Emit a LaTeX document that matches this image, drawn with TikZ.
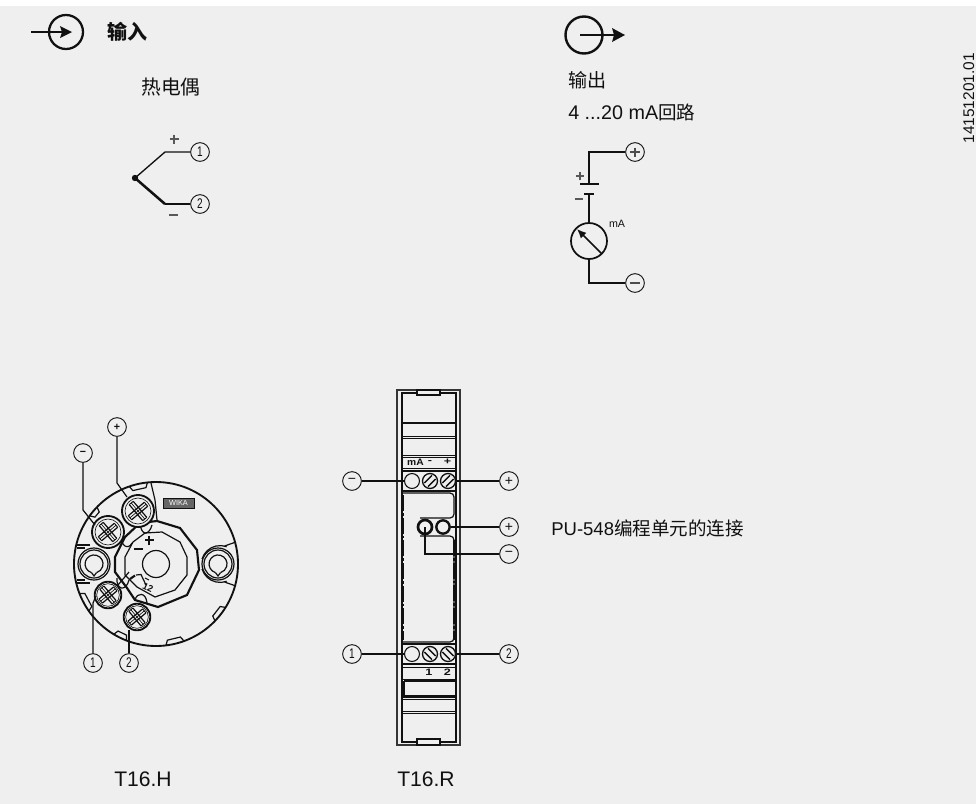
\documentclass[tikz,border=0pt]{standalone}
\usepackage{fontspec}
\usepackage{graphicx}
\setmainfont{Liberation Sans}
\newfontfamily\cjk{Noto Sans CJK SC}
\usetikzlibrary{arrows.meta,calc}
\definecolor{bgc}{HTML}{EFEFEF}
\definecolor{ink}{HTML}{111111}
\newcommand{\fsz}[1]{\fontsize{#1pt}{#1pt}\selectfont}
\tikzset{
 lab/.style={inner sep=0pt,text=ink,font=\fsz{13.9},anchor=base west},
 ln/.style={draw=ink,line width=0.9pt},
 thk/.style={draw=ink,line width=1.4pt},
 thn/.style={draw=ink,line width=0.5pt},
 term/.style={circle,draw=ink,line width=0.7pt,minimum size=14pt,inner sep=0pt,font=\fsz{10.5},text=ink},
 small/.style={inner sep=0pt,text=ink,font=\bfseries\fsz{7}},
}
\newcommand{\nar}[1]{\scalebox{0.72}[1]{#1}}
\newcommand{\wid}[1]{\scalebox{1.35}[1]{#1}}
% x y outer-radius ring-radius arm-length
\newcommand{\crosshead}[5]{%
 \draw[thk,fill=bgc] (#1,#2) circle (#3);
 \draw[thn] (#1,#2) circle (#4);
 \begin{scope}[shift={(#1,#2)},rotate=40]
  \draw[ink,line width=0.9pt] (-#5,-2.6) -- (#5,-2.6) (-#5,2.6) -- (#5,2.6) (-2.6,-#5) -- (-2.6,#5) (2.6,-#5) -- (2.6,#5);
  \draw[ink,line width=0.7pt] (-#5,-2.6) -- (-#5,2.6) (#5,-2.6) -- (#5,2.6) (-2.6,-#5) -- (2.6,-#5) (-2.6,#5) -- (2.6,#5);
  \draw[ink,line width=0.5pt] (-#5,0) -- (#5,0) (0,-#5) -- (0,#5);
 \end{scope}}
% x y sign: slotted terminal screw
\newcommand{\slotted}[3]{%
 \begin{scope}[shift={(#1,#2)},yscale=#3]
 \draw[ln,line width=1pt,fill=bgc] (0,0) circle (7.5);
 \draw[ink,line width=1pt] (-5.6,2) -- (2,-5.6) (-2,5.6) -- (5.6,-2);
 \end{scope}}
\begin{document}
\begin{tikzpicture}[x=0.75pt,y=-0.75pt]
\useasboundingbox (0,0) rectangle (976,804);
\fill[white] (0,0) rectangle (976,804);
\fill[bgc] (0,6) rectangle (976,804);
% --- headers
\draw[ink,line width=1.7pt] (66,32) circle (17);
\coordinate (inA) at (31,32);
\coordinate (inB) at (62,32);
\draw[ink,line width=1.7pt] (inA) -- (inB);
\fill[ink] (60,26) -- (72,32) -- (60,38) -- (62,32) -- cycle;
\node[lab,font=\fsz{15}] (tin) at (107,39) {\cjk\bfseries 输入};
\node[lab,font=\fsz{14.8}] (ttc) at (141,94) {\cjk 热电偶};
\draw[ink,line width=1.8pt] (584,35) circle (18.5);
\draw[ink,line width=1.7pt] (580,35) -- (614,35);
\fill[ink] (612,28) -- (625,35) -- (612,42) -- (614,35) -- cycle;
\node[lab,font=\fsz{14.3}] (tout) at (568,87) {\cjk 输出};
\node[lab,font=\fsz{14.8}] (tloop) at (568,119) {4 ...20 mA{\fsz{13.9}\cjk 回路}};
% --- thermocouple
\node[term] (c1) at (200,152) {\nar{1}};
\node[term] (c2) at (200,204) {\nar{2}};
\coordinate (tc) at (135,178);
\fill[ink] (tc) circle (3.2);
\draw[ln,line width=1pt] (tc) -- (165,152) -- (c1);
\draw[ink,line width=1.9pt] (tc) -- (165,204);
\draw[ln,line width=1pt] (165,204) -- (c2);
\draw[ink!70,line width=1.7pt] (169.5,139) -- (178.5,139) (174,134.5) -- (174,143.5);
\draw[ink!70,line width=1.7pt] (169,215) -- (178,215);
% --- output circuit
\node[term] (op) at (635,152) {};
\node[term] (om) at (635,283) {};
\draw[ink!75,line width=1.5pt] (630,152) -- (640,152) (635,147.5) -- (635,156.5);
\draw[ink!75,line width=1.8pt] (630,283) -- (640,283);
\draw[ink,line width=1.2pt] (op) -- (589,152) -- (589,184);
\draw[ink,line width=1.4pt] (580,184) -- (599,184);
\draw[ink,line width=2pt] (584,194) -- (594,194);
\draw[ink,line width=1.2pt] (589,194) -- (589,223);
\node[circle,draw=ink,line width=1.3pt,minimum size=27pt,inner sep=0pt] (mtr) at (589,241) {};
\draw[ink,line width=1.2pt,-{Latex[length=7pt,width=6pt]}] (602,254) -- (577,229);
\draw[ink,line width=1.2pt] (mtr) -- (589,283) -- (om);
\node[inner sep=0pt,text=ink,font=\fsz{8}] (ma) at (617,224) {mA};
\draw[ink!70,line width=1.6pt] (576,176) -- (584,176) (580,172) -- (580,180);
\draw[ink!70,line width=1.6pt] (575,199) -- (583,199);
% --- T16.H
\draw[thk] (156,564) circle (82);
\foreach \a/\b in {-109/-96,-144/-136,145/159,111/121,70/83,32/44}{
 \draw[ln] ({156+82*cos(\a)},{564+82*sin(\a)}) -- ({156+77*cos(\a+1.5)},{564+77*sin(\a+1.5)}) -- ({156+77*cos(\b-1.5)},{564+77*sin(\b-1.5)}) -- ({156+82*cos(\b)},{564+82*sin(\b)});
}
% central hub
\draw[ink,line width=1.6pt] (157,521) -- (180,528) -- (197,550) -- (199,570) -- (187,595) -- (158,607) -- (135,600) -- (127,588) -- (115,572) -- (115,557) -- (125,537) -- (140,523) -- cycle;
\draw[ln] (162,532) -- (180,542) -- (187,557) -- (187,575) -- (175,590) -- (155,597) -- (137,587) -- (125,575) -- (125,557) -- (133,542) -- (145,533) -- cycle;
\draw[ln] (156,564) circle (13.5);
% side lugs
\draw[ln] (94,564) circle (16);
\draw[ln] (94,564) circle (14);
\draw[ln] (218,564) circle (16);
\draw[ln] (218,564) circle (14);
\draw[ln] (202,559) arc[start angle=197,end angle=290,radius=19];
\draw[ln] (202,569) arc[start angle=163,end angle=70,radius=19];
\draw[ln] (224.5,546) -- (236,542) (224.5,582) -- (236,586);
\draw[ln] (77,545) -- (90,545) (77,548) -- (85,548) (77,580) -- (85,580) (77,583) -- (90,583);
\foreach \cx in {94,218}{
 \draw[ln] ({\cx-2.5},572.6) arc[start angle=106.4,end angle=433.6,radius=9];
 \draw[ln] ({\cx-2.5},572.6) -- (\cx,576) -- ({\cx+2.5},572.6);
}
\draw[ln] (151,483) -- (155,500) -- (157,520);
% keyhole slots
\draw[ln] (140,523) .. controls (141,536) and (149,536) .. (152,525);
\draw[ln] (121,535) .. controls (120,545) and (128,551) .. (132,543);
\draw[ln] (117,578) .. controls (116,590) and (126,592) .. (129,580);
\draw[ln] (135,600) .. controls (137,592) and (146,592) .. (147,603);
\draw[ln] (118,585) -- (129,572);
% markings
\draw[ink,line width=1.6pt] (145,540) -- (153.5,540) (149.25,535.5) -- (149.25,544.5);
\draw[ink,line width=1.6pt] (133.5,549) -- (142.5,549);
\draw[ink,line width=1.6pt] (130,579) -- (135,575.5);
\draw[ln] (136,575) -- (141,574.5) -- (146,585);
\draw[ink,line width=0.8pt] (145,578) -- (149,580);
\node[small,rotate=-25] (n12) at (148,588) {12};
% WIKA plate
\node[draw=ink,fill=black!60,inner sep=0pt,minimum width=23pt,minimum height=7.5pt,text=white,font=\fsz{5.5}] (wk) at (178.5,503) {WIKA};
% screws
\crosshead{138}{511}{16}{13}{10.5}
\crosshead{108}{532}{16}{13}{10.5}
\crosshead{108}{595}{13.3}{11.3}{9.5}
\crosshead{137}{617}{13.3}{11.3}{9.5}
\node[term] (hp) at (117,427) {\fsz{8}\textbf{+}};
\node[term] (hm) at (83,453) {\fsz{8}\textbf{−}};
\node[term] (h1) at (93,663) {\nar{1}};
\node[term] (h2) at (129,663) {\nar{2}};
\draw[ln] (hp) -- (117,483) -- (127,497);
\draw[ln] (hm) -- (83,510) -- (95,525);
\draw[ln] (h1) -- (93,603) -- (96,596);
\draw[ln] (h2) -- (129,630);
\node[lab,font=\fsz{15.8}] (lh) at (114,786) {T16.H};
% --- T16.R
\draw[ink!85,line width=1.4pt] (397,390) rectangle (460,745);
\draw[ln] (402,393) rectangle (456,742);
\draw[ln,fill=bgc] (417,390) rectangle (440,395);
\draw[ln,fill=bgc] (417,739) rectangle (440,745);
\foreach \y in {422,423.5,436,438,455,457,468,667,679,697,699,711,713}{\draw[draw=ink,line width=0.7pt] (402,\y) -- (456,\y);}
\draw[ln] (404,681) -- (404,696) -- (456,696) (404,681) -- (456,681);
\node[small] (tma) at (415.5,462) {\scalebox{1.1}[1]{mA}};
\node[small] (tmi) at (430,462) {\wid{-}};
\node[small] (tpl) at (447.5,462) {\wid{+}};
\node[small] (t1) at (429,672) {\wid{1}};
\node[small] (t2) at (447.5,672) {\wid{2}};
% terminal blocks
\draw[thk,line width=1.7pt] (402,471) -- (456,471) (456,491) -- (402,491) -- (402,471);
\draw[thk,line width=1.7pt] (402,644) -- (456,644) (456,664) -- (402,664) -- (402,644);
% panel
\draw[ln,rounded corners=3pt] (420,518) -- (454,518) -- (454,493) -- (403,493) ;
\draw[ln,rounded corners=3pt] (420,536) -- (454,536) -- (454,642) -- (403,642);
\draw[ln,line width=1pt,dash pattern=on 12pt off 1.5pt on 2pt off 1.5pt] (403.5,495) -- (403.5,640);
\draw[ln,line width=1pt,dash pattern=on 12pt off 1.5pt on 2pt off 1.5pt] (454,540) -- (454,640);
% terminal screws
\node[circle,draw=ink,line width=0.8pt,minimum size=11.2pt,inner sep=0pt] (s1) at (412,481) {};
\node[circle,draw=ink,line width=0.8pt,minimum size=11.2pt,inner sep=0pt] (s2) at (412,654) {};
\slotted{430}{481}{1}
\slotted{448}{481}{1}
\slotted{430}{654}{-1}
\slotted{448}{654}{-1}
\coordinate (sr1) at (455.5,481);
\coordinate (sr2) at (455.5,654);
% programming sockets
\node[circle,draw=ink,fill=bgc,line width=2pt,minimum size=10.5pt,inner sep=0pt] (pm) at (425,527) {};
\node[circle,draw=ink,fill=bgc,line width=1.8pt,minimum size=10pt,inner sep=0pt] (pp) at (443,527) {};
% external terminals
\node[term] (rm) at (352,481) {−};
\node[term] (rp) at (509,481) {+};
\node[term] (rpp) at (509,527) {+};
\node[term] (rpm) at (509,554) {−};
\node[term] (r1) at (352,654) {\nar{1}};
\node[term] (r2) at (509,654) {\nar{2}};
\draw[ln] (rm) -- (s1);
\draw[ln] (rp) -- (sr1);
\draw[ln] (r1) -- (s2);
\draw[ln] (r2) -- (sr2);
\draw[ln] (rpp) -- (pp);
\draw[ln] (rpm) -- (425,554) -- (425,527);
\node[lab,font=\fsz{15.8}] (lr) at (397,786) {T16.R};
\node[lab] (pu) at (551,535) {PU-548{\cjk 编程单元的连接}};
\node[inner sep=0pt,text=ink,font=\fsz{11.6},rotate=90,anchor=base east] (code) at (974,53) {14151201.01};
\end{tikzpicture}
\end{document}
